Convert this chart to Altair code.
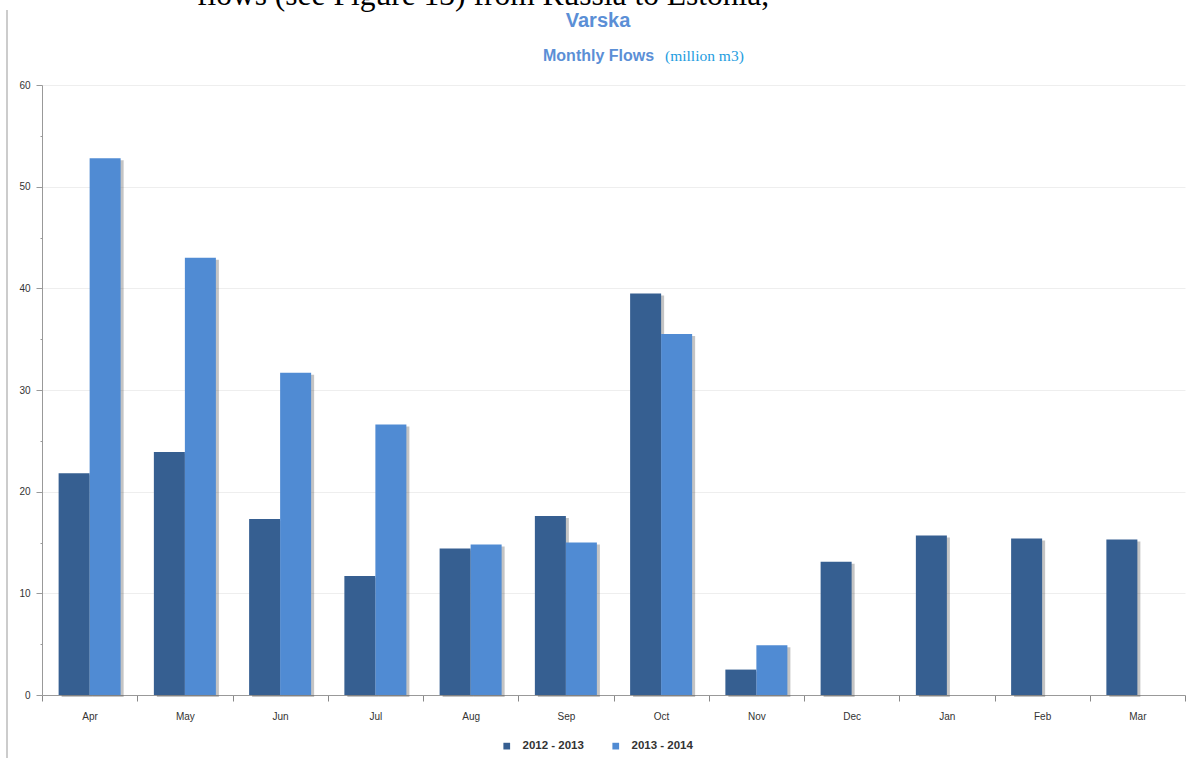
import altair as alt
import pandas as pd

months = ["Apr", "May", "Jun", "Jul", "Aug", "Sep", "Oct", "Nov", "Dec", "Jan", "Feb", "Mar"]
s2012 = [21.8, 23.9, 17.3, 11.7, 14.4, 17.6, 39.5, 2.5, 13.1, 15.7, 15.4, 15.3]
s2013 = [52.8, 43.0, 31.7, 26.6, 14.8, 15.0, 35.5, 4.9, None, None, None, None]
series = ["2012 - 2013", "2013 - 2014"]
colors = ["#365f91", "#508bd3"]

rows = []
for m, a, b in zip(months, s2012, s2013):
    rows.append({"month": m, "series": series[0], "value": a})
    if b is not None:
        rows.append({"month": m, "series": series[1], "value": b})
df = pd.DataFrame(rows)

W, H = 1143, 610
STEP = W / 12

xenc = alt.X("month:N", sort=months, title=None,
             scale=alt.Scale(paddingInner=0, paddingOuter=0),
             axis=alt.Axis(labelAngle=0, labelFont="Liberation Sans", labelFontSize=10,
                           labelColor="#333333", labelPadding=10, tickBand="extent",
                           tickSize=6, tickColor="#888888", domainColor="#999999",
                           grid=False))
yenc = alt.Y("value:Q", title=None,
             scale=alt.Scale(domain=[0, 60], nice=False),
             axis=alt.Axis(values=list(range(0, 61, 5)),
                           labelExpr="datum.value % 10 == 0 ? datum.label : ''",
                           labelFont="Liberation Sans", labelFontSize=10, labelColor="#333333",
                           labelPadding=6,
                           tickSize={"condition": {"test": "datum.value % 10 == 0", "value": 6}, "value": 2},
                           tickColor="#999999",
                           domainColor="#999999",
                           gridColor="#eeeeee",
                           gridOpacity={"condition": {"test": "datum.value % 10 == 0", "value": 1}, "value": 0}))

base = alt.Chart(df)

shadow = base.mark_bar(color="#555555", opacity=0.35, yOffset=2).encode(
    x=xenc,
    xOffset=alt.XOffset("series:N", sort=series,
                        scale=alt.Scale(domain=series, paddingInner=0, paddingOuter=0.536,
                                        range=[3, STEP + 3])),
    y=yenc)

bars = base.mark_bar().encode(
    x=xenc,
    xOffset=alt.XOffset("series:N", sort=series,
                        scale=alt.Scale(domain=series, paddingInner=0, paddingOuter=0.536)),
    y=yenc,
    color=alt.Color("series:N", sort=series,
                    scale=alt.Scale(domain=series, range=colors),
                    legend=alt.Legend(title=None, orient="none", direction="horizontal",
                                      legendX=459, legendY=655, symbolType="square",
                                      symbolSize=45, symbolStrokeWidth=0,
                                      labelFont="Liberation Sans", labelFontSize=11.5,
                                      labelFontWeight="bold", labelColor="#333333",
                                      columnPadding=26, labelOffset=10)),
)

def txt(t, x, y, **kw):
    return alt.Chart(pd.DataFrame({"t": [t]})).mark_text(**kw).encode(
        text="t:N", x=alt.value(x), y=alt.value(y))

title = txt("Varska", 556, -64, font="Liberation Sans", fontSize=20, fontWeight="bold",
            color="#5b8fd6", align="center", baseline="middle")
sub1 = txt("Monthly Flows", 501, -29, font="Liberation Sans", fontSize=16, fontWeight="bold",
           color="#5b8fd6", align="left", baseline="middle")
sub2 = txt("(million m3)", 623, -29, font="Liberation Serif", fontSize=15.5,
           color="#1e9de0", align="left", baseline="middle")
doc = txt("flows (see Figure 13) from Russia to Estonia,", 155, -80, font="Liberation Serif",
          fontSize=31.5, color="#000000", align="left", baseline="alphabetic")

edge = alt.Chart(pd.DataFrame({"a": [0]})).mark_rule(color="#cccccc", strokeWidth=2).encode(
    x=alt.value(-35), y=alt.value(-75), y2=alt.value(680))

chart = alt.layer(edge, shadow, bars, title, sub1, sub2, doc).resolve_scale(
    xOffset="independent"
).properties(
    width=W, height=H,
    autosize=alt.AutoSizeParams(type="none"),
    padding={"left": 42, "top": 85, "right": 2, "bottom": 63},
    background="white",
).configure_view(stroke=None)

chart.save("out.html", embed_options={"renderer": "svg", "actions": False})
